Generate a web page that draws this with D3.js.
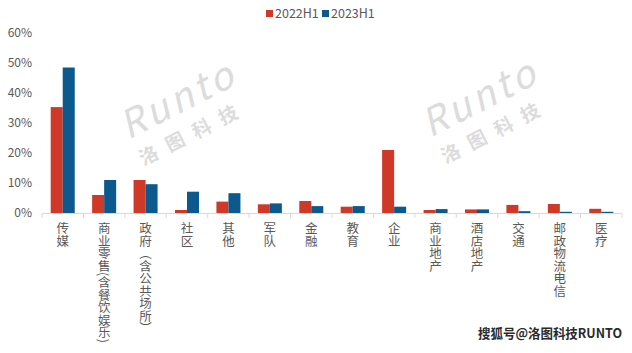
<!DOCTYPE html>
<html>
<head>
<meta charset="utf-8">
<script src="https://cdn.jsdelivr.net/npm/d3@7"></script>
<style>
  body { margin: 0; background: #fff; }
  text { font-family: "Noto Sans CJK SC", "Noto Sans", sans-serif; }
</style>
</head>
<body>
<svg id="chart" width="632" height="353"></svg>
<script>
// data
const categories = ["传媒", "商业零售(含餐饮娱乐)", "政府（含公共场所）", "社区", "其他", "军队", "金融",
  "教育", "企业", "商业地产", "酒店地产", "交通", "邮政物流电信", "医疗"];
const series = ["2022H1", "2023H1"];
const v2022 = [35.3, 6.0, 11.0, 1.0, 3.8, 2.9, 4.0, 2.1, 21.0, 1.0, 1.2, 2.7, 3.0, 1.4];
const v2023 = [48.5, 11.0, 9.6, 7.1, 6.6, 3.2, 2.3, 2.3, 2.1, 1.3, 1.2, 0.6, 0.4, 0.4];
const yTicks = [0, 10, 20, 30, 40, 50, 60];

const colors = { "2022H1": "#cf3a28", "2023H1": "#0c598d" };
const data = categories.map((c, i) => ({ name: c, "2022H1": v2022[i], "2023H1": v2023[i] }));

const svg = d3.select("#chart");
const margin = { top: 33, left: 42, right: 10, bottom: 140 };
const width = 632, height = 353;

// watermarks first so bars sit on top
function watermark(x, y) {
  const g = svg.append("g").attr("transform", `translate(${x},${y}) rotate(-27)`);
  g.append("text")
    .attr("x", 0).attr("y", 0)
    .attr("font-family", "Lato, 'DejaVu Sans', sans-serif")
    .attr("font-style", "italic")
    .attr("font-size", 38)
    .attr("textLength", 122)
    .attr("lengthAdjust", "spacing")
    .attr("fill", "#dcdcdc")
    .text("Runto");
  g.append("text")
    .attr("x", 2).attr("y", 30)
    .attr("font-size", 19)
    .attr("font-weight", "bold")
    .attr("textLength", 108)
    .attr("lengthAdjust", "spacing")
    .attr("fill", "#dcdcdc")
    .text("洛图科技");
}
watermark(128, 140);
watermark(430, 138);

const x0 = d3.scaleBand()
  .domain(categories)
  .range([margin.left, 622])
  .paddingInner(0.42)
  .paddingOuter(0.21);
const x1 = d3.scaleBand().domain(series).range([0, x0.bandwidth()]);
const y = d3.scaleLinear().domain([0, 60]).range([213, margin.top]);

// bars
svg.append("g")
  .selectAll("g")
  .data(data)
  .join("g")
  .attr("transform", d => `translate(${x0(d.name)},0)`)
  .selectAll("rect")
  .data(d => series.map(k => ({ key: k, value: d[k] })))
  .join("rect")
  .attr("x", d => x1(d.key))
  .attr("y", d => y(d.value))
  .attr("width", x1.bandwidth())
  .attr("height", d => y(0) - y(d.value))
  .attr("fill", d => colors[d.key]);

// y axis labels only
const yAxis = svg.append("g")
  .attr("transform", "translate(32,0)")
  .call(d3.axisLeft(y).tickValues(yTicks).tickFormat(d => d + "%").tickSize(0));
yAxis.select(".domain").remove();
yAxis.selectAll("text")
  .attr("fill", "#595959")
  .attr("font-size", 12)
  .attr("font-family", "'Liberation Sans', Arial, sans-serif")
  .attr("x", 0);

// x axis line + ticks at band edges
const step = x0.step();
const edges = d3.range(categories.length + 1).map(i => margin.left + i * step);
svg.append("line")
  .attr("x1", margin.left).attr("x2", 622)
  .attr("y1", 213.5).attr("y2", 213.5)
  .attr("stroke", "#d9d9d9");
svg.append("g").selectAll("line")
  .data(edges)
  .join("line")
  .attr("x1", d => d).attr("x2", d => d)
  .attr("y1", 213.5).attr("y2", 218)
  .attr("stroke", "#d9d9d9");

// vertical category labels
svg.append("g").selectAll("text")
  .data(categories)
  .join("text")
  .attr("x", d => x0(d) + x0.bandwidth() / 2)
  .attr("y", 222)
  .attr("fill", "#595959")
  .attr("font-size", 12.5)
  .style("writing-mode", "vertical-rl")
  .style("text-orientation", "mixed")
  .text(d => d);

// legend
const legend = svg.append("g").attr("transform", "translate(266,0)");
series.forEach((s, i) => {
  const lx = i * 56;
  legend.append("rect")
    .attr("x", lx).attr("y", 10).attr("width", 7).attr("height", 7)
    .attr("fill", colors[s]);
  legend.append("text")
    .attr("x", lx + 9).attr("y", 18)
    .attr("fill", "#595959")
    .attr("font-size", 12.5)
    .attr("font-family", "'Liberation Sans', Arial, sans-serif")
    .text(s);
});

// source stamp bottom right
svg.append("text")
  .attr("x", 622).attr("y", 338)
  .attr("text-anchor", "end")
  .attr("font-size", 13)
  .attr("font-weight", "bold")
  .attr("fill", "#2b2b2b")
  .attr("stroke", "#ffffff")
  .attr("stroke-width", 2.5)
  .attr("paint-order", "stroke")
  .attr("textLength", 144)
  .attr("lengthAdjust", "spacingAndGlyphs")
  .text("搜狐号@洛图科技RUNTO");
</script>
</body>
</html>
